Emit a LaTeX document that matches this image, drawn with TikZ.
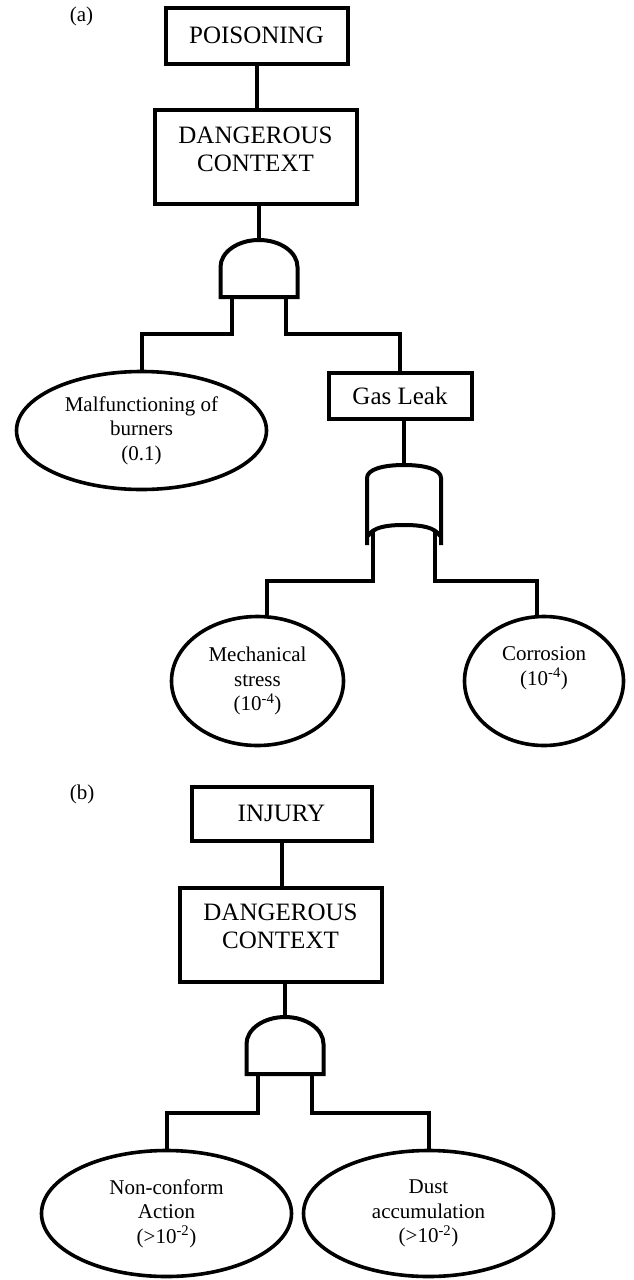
\documentclass[tikz,border=0pt]{standalone}
\usepackage{fontspec}
\setmainfont{Liberation Serif}
\usetikzlibrary{shapes.geometric}

\tikzset{
  wire/.style={line width=4pt},
  gateline/.style={line width=4pt, line join=miter},
  boxtxt/.style={font=\fontsize{25}{28}\selectfont, align=center},
  evtxt/.style={font=\fontsize{21}{24.5}\selectfont, align=center},
  eventbox/.style={draw, line width=4pt, rectangle, inner sep=0pt, boxtxt},
  basic/.style={draw, line width=3.6pt, ellipse, inner sep=0pt, evtxt},
  tag/.style={font=\fontsize{21}{24}\selectfont, inner sep=0pt},
  % AND gate: flat base, elliptic dome; legs below the base
  andgate/.pic={
    \draw[gateline] (-38.5,57) -- (-38.5,27)
      .. controls (-38.5,12.1) and (-21.3,0) .. (0,0)
      .. controls (21.3,0) and (38.5,12.1) .. (38.5,27)
      -- (38.5,57) -- cycle;
    \coordinate (-top) at (0,0);
    \coordinate (-l) at (-27,57);
    \coordinate (-r) at (27,57);
  },
  % OR gate: domed top, concave base with pointed tips
  orgate/.pic={
    \draw[gateline] (-37,80) -- (-37,13)
      .. controls (-37,4) and (-20,0) .. (0,0)
      .. controls (20,0) and (37,4) .. (37,13) -- (37,80);
    \draw[gateline] (-36,71)
      .. controls (-31,62) and (-17,60) .. (0,60)
      .. controls (17,60) and (31,62) .. (36,71);
    \coordinate (-top) at (0,0);
    \coordinate (-l) at (-31,66);
    \coordinate (-r) at (31,66);
  }
}

\begin{document}
\begin{tikzpicture}[x=1pt, y=-1pt]
\useasboundingbox (0,0) rectangle (634,1280);

% ---------- tree (a) ----------
\node[tag] (la) at (81.5,16) {(a)};
\node[eventbox, minimum width=182pt, minimum height=56pt] (poi) at (256.5,35.5) {POISONING};
\node[eventbox, minimum width=202pt, minimum height=94pt] (dca) at (255.5,156.5) {};
\node[boxtxt, inner sep=0pt] (dcat) at (255.5,149) {DANGEROUS\\CONTEXT};
\pic (ga) at (259,240) {andgate};
\node[basic, minimum width=250pt, minimum height=118pt] (malf) at (141.5,430.5)
  {Malfunctioning of\\burners\\(0.1)};
\node[eventbox, minimum width=143pt, minimum height=46pt] (gas) at (400,395.5) {Gas Leak};
\pic (go) at (404,465) {orgate};
\node[basic, minimum width=172pt, minimum height=129pt] (mech) at (257.5,681)
  {Mechanical\\stress\\(10\textsuperscript{-4})};
\node[basic, minimum width=159pt, minimum height=129pt] (corr) at (544,681) {};
\node[evtxt, inner sep=0pt] (corrt) at (544,668.5) {Corrosion\\(10\textsuperscript{-4})};

\coordinate (ja) at (0,334);
\coordinate (jo) at (0,581);

\draw[wire] (poi.south) -- (poi.south |- dca.north);
\draw[wire] (dca.south -| ga-top) -- (ga-top);
\draw[wire] (ga-l) -- (ga-l |- ja) -| (malf.north);
\draw[wire] (ga-r) -- (ga-r |- ja) -| (gas.north);
\draw[wire] (gas.south -| go-top) -- (go-top);
\draw[wire] (go-l) -- (go-l |- jo) -| (mech.82);
\draw[wire] (go-r) -- (go-r |- jo) -| (corr.96);

% ---------- tree (b) ----------
\node[tag] (lb) at (82,794) {(b)};
\node[eventbox, minimum width=180pt, minimum height=54pt] (inj) at (281.5,813.5) {INJURY};
\node[eventbox, minimum width=202pt, minimum height=94pt] (dcb) at (280.5,934.5) {};
\node[boxtxt, inner sep=0pt] (dcbt) at (280.5,926.5) {DANGEROUS\\CONTEXT};
\pic (gb) at (285,1017) {andgate};
\node[basic, minimum width=250pt, minimum height=126pt] (nonc) at (166.5,1213.5)
  {Non-conform\\Action\\(>10\textsuperscript{-2})};
\node[basic, minimum width=250pt, minimum height=126pt] (dust) at (428.5,1213.5)
  {Dust\\accumulation\\(>10\textsuperscript{-2})};

\coordinate (jb) at (0,1113);

\draw[wire] (inj.south) -- (inj.south |- dcb.north);
\draw[wire] (dcb.south -| gb-top) -- (gb-top);
\draw[wire] (gb-l) -- (gb-l |- jb) -| (nonc.north);
\draw[wire] (gb-r) -- (gb-r |- jb) -| (dust.north);
\end{tikzpicture}
\end{document}
